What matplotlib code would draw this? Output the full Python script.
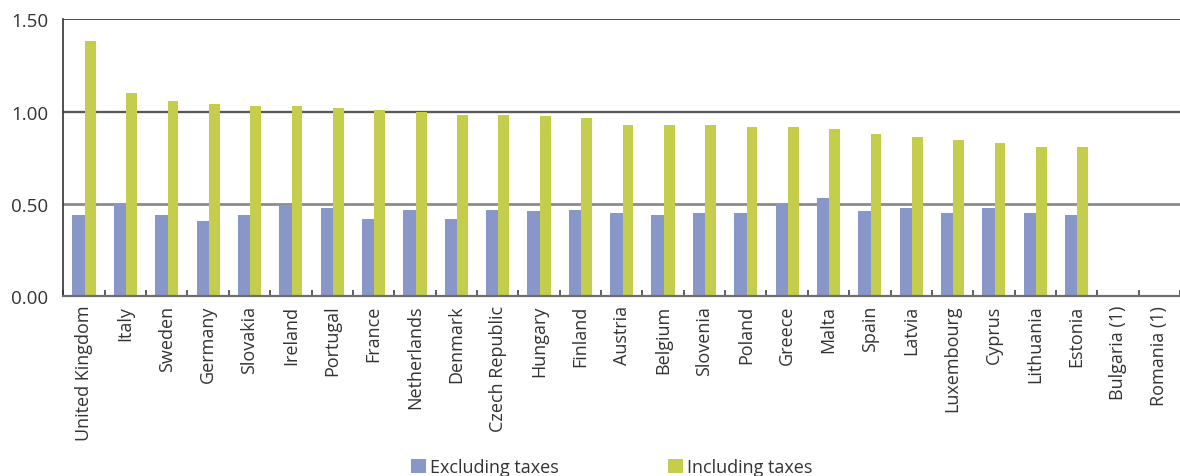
import matplotlib
matplotlib.use("Agg")
import matplotlib.pyplot as plt
from matplotlib.patches import Patch
import numpy as np

countries = [
    "United Kingdom", "Italy", "Sweden", "Germany", "Slovakia", "Ireland",
    "Portugal", "France", "Netherlands", "Denmark", "Czech Republic",
    "Hungary", "Finland", "Austria", "Belgium", "Slovenia", "Poland",
    "Greece", "Malta", "Spain", "Latvia", "Luxembourg", "Cyprus",
    "Lithuania", "Estonia", "Bulgaria (1)", "Romania (1)",
]
excluding_taxes = [
    0.44, 0.50, 0.44, 0.41, 0.44, 0.49, 0.48, 0.42, 0.47, 0.42, 0.47,
    0.46, 0.47, 0.45, 0.44, 0.45, 0.45, 0.50, 0.53, 0.46, 0.48, 0.45,
    0.48, 0.45, 0.44, np.nan, np.nan,
]
including_taxes = [
    1.38, 1.10, 1.06, 1.04, 1.03, 1.03, 1.02, 1.01, 1.00, 0.98, 0.98,
    0.975, 0.965, 0.93, 0.925, 0.925, 0.915, 0.915, 0.905, 0.88, 0.865,
    0.845, 0.83, 0.81, 0.81, np.nan, np.nan,
]
y_ticks = [0.0, 0.5, 1.0, 1.5]
y_tick_labels = ["0.00", "0.50", "1.00", "1.50"]

BLUE = "#8896c8"
GREEN = "#c5ce4c"
TEXT = "#333333"

plt.rcParams["font.family"] = ["Open Sans", "DejaVu Sans"]

W, H = 1180, 477
fig = plt.figure(figsize=(W / 100, H / 100), dpi=100)
left_px, right_px = 63.4, 1180
top_px, bottom_px = 20.3, 297.3
ax = fig.add_axes([left_px / W, 1 - bottom_px / H,
                   (right_px - left_px) / W, (bottom_px - top_px) / H])

x = np.arange(len(countries))
ax.bar(x - 0.28, excluding_taxes, width=0.30, align="edge", color=BLUE,
       zorder=3, label="Excluding taxes")
ax.bar(x + 0.02, including_taxes, width=0.26, align="edge", color=GREEN,
       zorder=3, label="Including taxes")

slot = 41.6
n_extra = (right_px - left_px) / slot - len(countries)
ax.set_xlim(-0.5, len(countries) - 0.5 + n_extra)
ax.set_ylim(0, 1.5)

# horizontal reference lines
ax.axhline(1.5, color="#333333", lw=1.2, zorder=2)
ax.axhline(1.0, color="#dddddd", lw=2.6, zorder=1)
ax.axhline(1.0, color="#333333", lw=1.1, zorder=2)
ax.axhline(0.5, color="#8c8c8c", lw=2.0, zorder=2)

for s in ["top", "right"]:
    ax.spines[s].set_visible(False)
ax.spines["left"].set_color("#333333")
ax.spines["left"].set_linewidth(1.2)
ax.spines["bottom"].set_color("#6e6e6e")
ax.spines["bottom"].set_linewidth(1.6)
ax.spines["bottom"].set_zorder(4)

ax.set_yticks(y_ticks)
ax.set_yticklabels(y_tick_labels, fontsize=13.5, color=TEXT)
ax.tick_params(axis="y", length=0, pad=11)

ax.set_xticks(x)
ax.set_xticklabels(countries, rotation=90, fontsize=13, color=TEXT)
ax.tick_params(axis="x", which="major", length=0, pad=6)
ax.set_xticks(np.arange(-0.5, len(countries)), minor=True)
ax.tick_params(axis="x", which="minor", direction="in", length=4,
               width=1.1, color="#333333")

handles = [Patch(facecolor=BLUE, edgecolor="none"),
           Patch(facecolor=GREEN, edgecolor="none")]
fig.legend(handles, ["Excluding taxes", "Including taxes"], ncol=2,
           loc="center left", bbox_to_anchor=(411 / W, 1 - 468 / H),
           frameon=False, fontsize=13, handlelength=0.83, handleheight=0.83,
           handletextpad=0.2, columnspacing=6.1, borderpad=0, borderaxespad=0,
           labelcolor=TEXT)

fig.savefig("out.png", dpi=100)
